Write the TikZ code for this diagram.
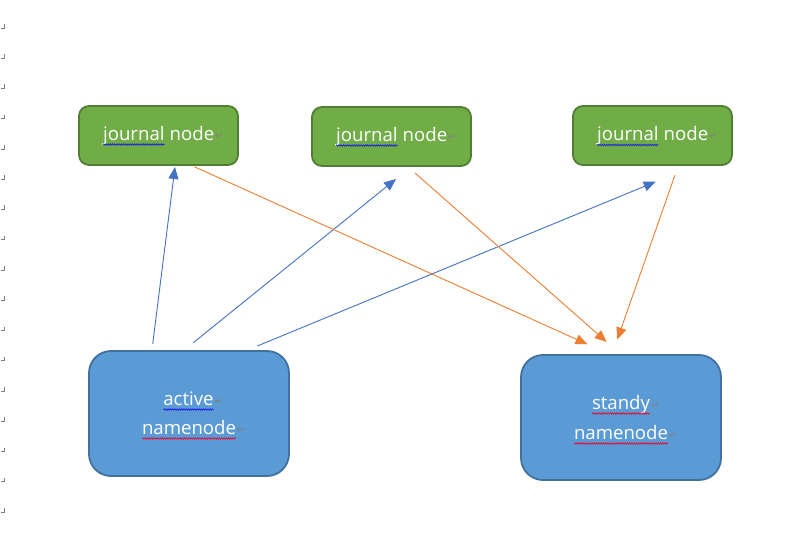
\documentclass[tikz,border=0pt]{standalone}
\usepackage{fontspec}
\setmainfont{Open Sans}
\newfontfamily\djv{DejaVu Sans}
\usetikzlibrary{arrows.meta,decorations.pathmorphing}
\definecolor{jgreen}{HTML}{70AD47}
\definecolor{jgreenb}{HTML}{507E32}
\definecolor{nblue}{HTML}{5B9BD5}
\definecolor{nblueb}{HTML}{41719C}
\definecolor{ablue}{HTML}{4472C4}
\definecolor{aorange}{HTML}{ED7D31}
\definecolor{pmgray}{HTML}{808080}
\definecolor{wblue}{HTML}{1F1FE0}
\definecolor{wred}{HTML}{E0103A}
\newcommand\pmk{\rlap{\hspace{0.6pt}\raisebox{1pt}{\color{pmgray}\djv\fontsize{10}{10}\selectfont ↵}}}
\newcommand\wavy[2]{\tikz[baseline=(w.base)]{\node[inner sep=0pt,outer sep=0pt](w){#2};\draw[#1,line width=0.7pt,decorate,decoration={snake,amplitude=0.7pt,segment length=2.2pt}] ([yshift=-4pt]w.base west) -- ([yshift=-4pt]w.base east);}}
\tikzset{
  jbox/.style={draw=jgreenb,fill=jgreen,line width=1.8pt,rounded corners=10pt,minimum width=159pt,minimum height=59pt,inner sep=0pt},
  nbox/.style={draw=nblueb,fill=nblue,line width=1.8pt,rounded corners=22pt,minimum width=200pt,minimum height=125pt,inner sep=0pt},
  lbl/.style={text=white,anchor=base,inner sep=0pt,font=\fontsize{18.6}{22}\selectfont},
  barrow/.style={draw=ablue,line width=0.9pt,-{Triangle[length=12pt,width=10pt]}},
  oarrow/.style={draw=aorange,line width=0.9pt,-{Triangle[length=12pt,width=10pt]}},
  pmline/.style={draw=pmgray,line width=0.8pt}
}
\begin{document}
\begin{tikzpicture}[x=1pt,y=-1pt]
\useasboundingbox (0,0) rectangle (797,534);
\fill[white] (0,0) rectangle (797,534);
% paragraph marks on the left margin
\foreach \k in {0,...,16}{
  \draw[pmline] (0.8,{28+30.25*\k}) -- (4,{28+30.25*\k}) -- (4,{24+30.25*\k});
}
% boxes
\node[jbox] (J1) at (158.5,135.5) {};
\node[jbox] (J2) at (391.5,136.5) {};
\node[jbox] (J3) at (652.5,135.5) {};
\node[nbox] (A) at (189,413.5) {};
\node[nbox] (S) at (621,417.5) {};
% labels
\node[lbl] (J1t) at (158.5,140.5) {\wavy{wblue}{journal} node\pmk};
\node[lbl] (J2t) at (391.5,141.5) {\wavy{wblue}{journal} node\pmk};
\node[lbl] (J3t) at (652.5,141) {\wavy{wblue}{journal} node\pmk};
\node[lbl] (A1) at (188.5,405.5) {\wavy{wblue}{active}\pmk};
\node[lbl] (A2) at (189,434.5) {\wavy{wred}{namenode}\pmk};
\node[lbl] (S1) at (621,409.5) {\wavy{wred}{standy}\pmk};
\node[lbl] (S2) at (621,439.5) {\wavy{wred}{namenode}\pmk};
% connector ends
\coordinate (b1s) at (152.7,344);
\coordinate (b1e) at (175,167);
\coordinate (b2s) at (193.3,342.7);
\coordinate (b2e) at (396,179);
\coordinate (b3s) at (257.3,346);
\coordinate (b3e) at (655.7,181.7);
\coordinate (o1s) at (194.3,166.7);
\coordinate (o1e) at (587.5,344.3);
\coordinate (o2s) at (415,173);
\coordinate (o2e) at (606.7,342);
\coordinate (o3s) at (675,175);
\coordinate (o3e) at (617.3,339.5);
\draw[barrow] (b1s) -- (b1e);
\draw[barrow] (b2s) -- (b2e);
\draw[barrow] (b3s) -- (b3e);
\draw[oarrow] (o1s) -- (o1e);
\draw[oarrow] (o2s) -- (o2e);
\draw[oarrow] (o3s) -- (o3e);
\end{tikzpicture}
\end{document}
